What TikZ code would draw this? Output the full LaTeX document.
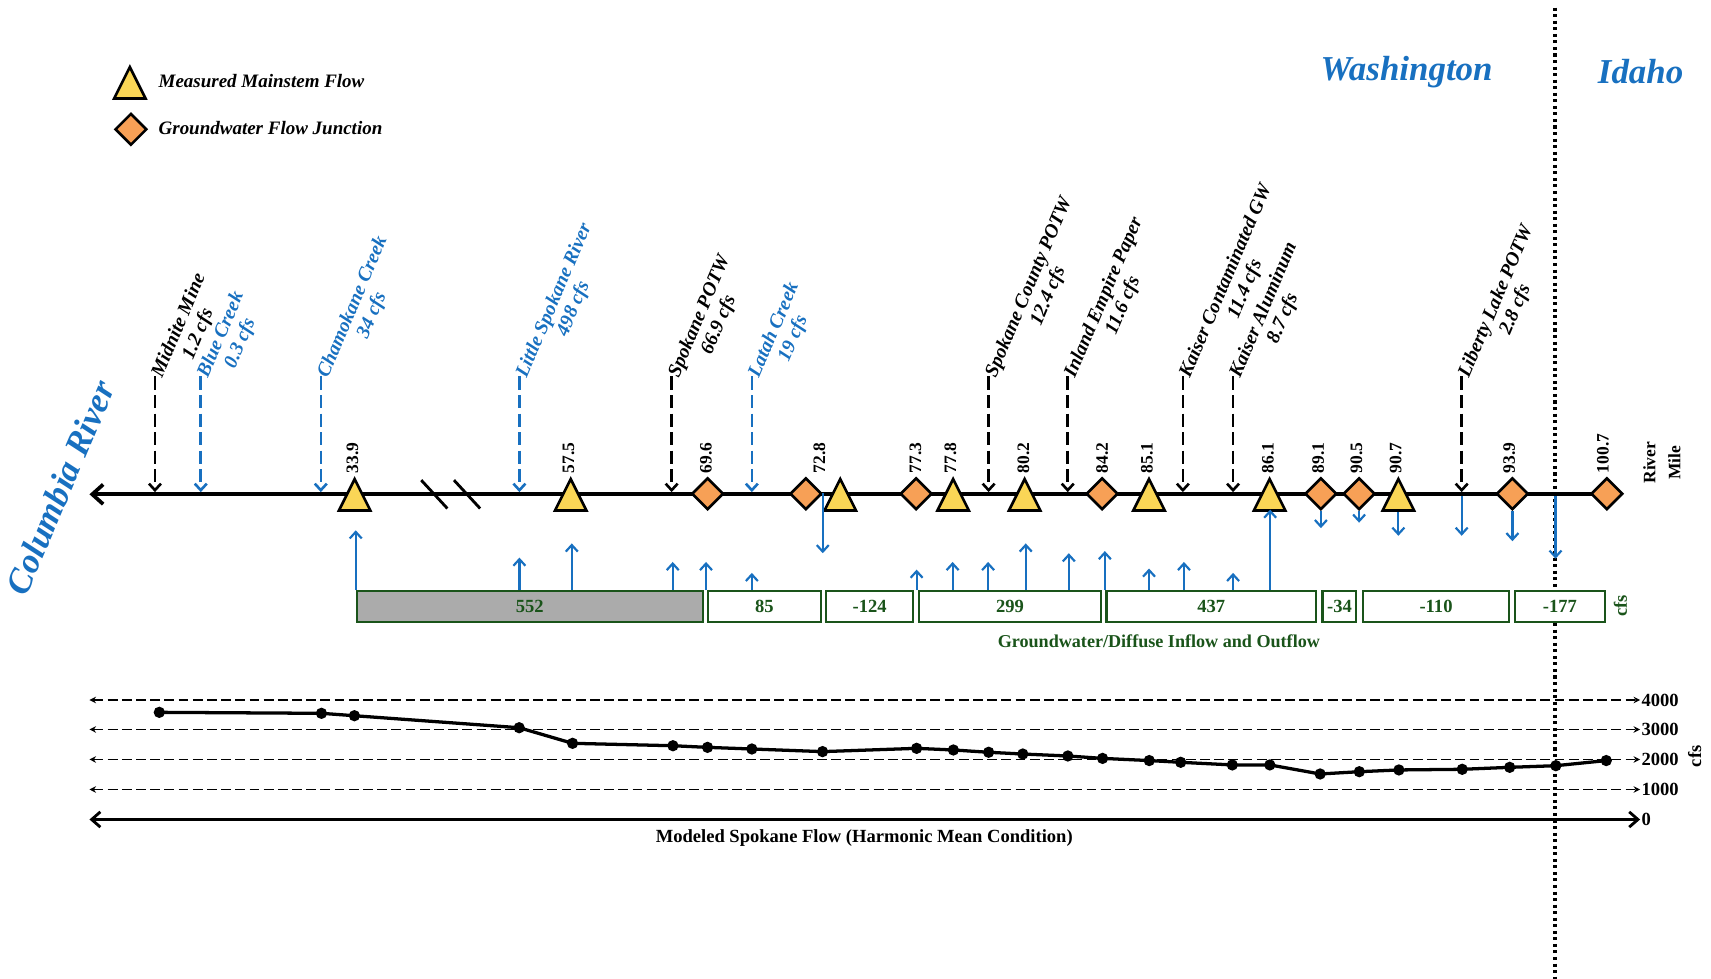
\documentclass[tikz,border=0pt]{standalone}
\usepackage{fontspec}
\setmainfont{Liberation Serif}
\usetikzlibrary{arrows.meta,shapes.geometric}
\definecolor{wablue}{RGB}{24,112,192}
\definecolor{gwgreen}{RGB}{26,84,26}
\definecolor{gaugefill}{RGB}{250,214,86}
\definecolor{junctfill}{RGB}{247,160,86}
\definecolor{boxgray}{RGB}{171,171,171}
\tikzset{
	gauge/.style={isosceles triangle,shape border rotate=90,isosceles triangle stretches,minimum width=14.4pt,minimum height=14.4pt,inner sep=0pt,draw=black,line width=1.2pt,fill=gaugefill},
	junction/.style={diamond,minimum size=14.6pt,inner sep=0pt,draw=black,line width=1.2pt,fill=junctfill},
	mile/.style={rotate=90,anchor=west,inner sep=0pt,font=\bfseries\fontsize{8}{9}\selectfont},
	source/.style={rotate=67,anchor=north west,inner sep=0pt,align=center,font=\bfseries\itshape\fontsize{9}{9.6}\selectfont},
	inflow/.style={line width=1.2pt,dash pattern=on 6pt off 2.5pt,-{Straight Barb[length=3pt,width=5.5pt]}},
	gwflow/.style={wablue,line width=1pt,-{Straight Barb[length=3pt,width=5.5pt]}},
	gwbox/.style={draw=gwgreen,line width=1pt,minimum height=14.3pt,inner sep=0pt,text=gwgreen,font=\bfseries\fontsize{8.5}{10}\selectfont},
	cfsline/.style={line width=0.6pt,dash pattern=on 4.5pt off 2pt,{Stealth[length=3pt,width=3pt]}-{Stealth[length=3pt,width=3pt]}},
	tick/.style={anchor=west,inner sep=0.5pt,font=\bfseries\fontsize{8.5}{10}\selectfont},
	legend/.style={anchor=west,inner sep=0pt,font=\bfseries\itshape\fontsize{8.7}{10}\selectfont},
	state/.style={text=wablue,inner sep=0pt,font=\bfseries\itshape\fontsize{16}{19}\selectfont}
}
\begin{document}
\begin{tikzpicture}[x=0.5pt,y=-0.5pt]
	\useasboundingbox (0,0) rectangle (1568,897);
	% state line
	\coordinate (border top) at (1425,7);
	\coordinate (border bottom) at (1425,897);
	\draw[line width=1.4pt,dash pattern=on 1.4pt off 1.6pt] (border top) -- (border bottom);
	\node[state] (wa) at (1289,66) {Washington};
	\node[state] (id) at (1503.5,66) {Idaho};
	\node[state,rotate=67] (columbia) at (55,447) {Columbia River};
	% legend
	\node[gauge,anchor=lower side] (leg gauge) at (119,91.5) {};
	\node[legend] (leg gauge text) at (145,74) {Measured Mainstem Flow};
	\node[junction] (leg junct) at (120,118.5) {};
	\node[legend] (leg junct text) at (145,117) {Groundwater Flow Junction};
	% river
	\coordinate (mouth) at (82,453);
	\coordinate (head) at (1472.5,453);
	\draw[line width=1.7pt,-{Straight Barb[length=5pt,width=9pt]}] (head) -- (mouth);
	\draw[line width=1.3pt] (386,440) -- (410,466) (416,440) -- (440,466);
	\foreach \x/\c/\nm/\q [count=\i] in {142/black/Midnite Mine/1.2 cfs,184/wablue/Blue Creek/0.3 cfs,294/wablue/Chamokane Creek/34 cfs,476/wablue/Little Spokane River/498 cfs,615.5/black/Spokane POTW/66.9 cfs,689/wablue/Latah Creek/19 cfs,906/black/Spokane County POTW/12.4 cfs,978.5/black/Inland Empire Paper/11.6 cfs,1084/black/Kaiser Contaminated GW/11.4 cfs,1130/black/Kaiser Aluminum/8.7 cfs,1339.5/black/Liberty Lake POTW/2.8 cfs}{
		\coordinate (src\i) at (\x,345);
		\coordinate (in\i) at (\x,451);
		\draw[inflow,color=\c] (src\i) -- (in\i);
		\node[source,text=\c] (lab\i) at (\x-5.5,342.5) {\nm\\\q};
	}
	\foreach \x [count=\i] in {325,523,770,873.5,939,1053,1163.5,1281.5}
		\node[gauge,anchor=lower side] (g\i) at (\x,469) {};
	\foreach \x [count=\i] in {648.5,738.5,839.5,1010,1210.5,1245.5,1386,1472.5}
		\node[junction] (j\i) at (\x,452.5) {};
	\foreach \x/\m [count=\i] in {323/33.9,521/57.5,647/69.6,751/72.8,839/77.3,871/77.8,938/80.2,1010/84.2,1051/85.1,1162/86.1,1208/89.1,1243/90.5,1279/90.7,1383/93.9,1469/100.7}
		\node[mile] (rm\i) at (\x,434) {\m};
	\node[rotate=90,align=center,inner sep=0pt,font=\bfseries\fontsize{8}{11.5}\selectfont] (rivmile) at (1523,424) {River\\Mile};
	% groundwater
	\foreach \cx/\w/\v/\f [count=\i] in {485.5/319/552/boxgray,700.5/105/85/white,797/82/-124/white,925.5/169/299/white,1110/194/437/white,1227.5/33/-34/white,1316/136/-110/white,1429.5/85/-177/white}
		\node[gwbox,fill=\f,minimum width=\w*0.5pt-1pt] (b\i) at (\cx,556) {\v};
	\node[rotate=90,inner sep=0pt,text=gwgreen,font=\bfseries\fontsize{8.5}{10}\selectfont] (boxcfs) at (1485,555) {cfs};
	\node[text=gwgreen,font=\bfseries\fontsize{8.3}{10}\selectfont] (gwcap) at (1062,588) {Groundwater/Diffuse Inflow and Outflow};
	\foreach \x/\t/\b [count=\i] in {326/486/b1,476/511/b1,524/498/b1,616.5/515/b1,647/515/b2,689/525/b2,840/522/b4,873/515/b4,905.5/515/b4,940/498/b4,979.5/507/b4,1012.5/505/b5,1053/521/b5,1085/515/b5,1130/525/b5,1164/467/b5}{
		\coordinate (up\i) at (\x,\t);
		\draw[gwflow] (up\i |- \b.north) -- (up\i);
	}
	\coordinate (out1) at (754,507);
	\coordinate (out5) at (1339.5,491);
	\coordinate (out7) at (1425.5,512);
	\draw[gwflow] (754,452) -- (out1);
	\draw[gwflow] (1339.5,455) -- (out5);
	\draw[gwflow] (1425.5,455) -- (out7);
	\coordinate (out2) at (1210.5,484);
	\coordinate (out3) at (1245.5,479);
	\coordinate (out4) at (1281.5,491);
	\coordinate (out6) at (1386,496);
	\draw[gwflow] (j5.south) -- (out2);
	\draw[gwflow] (j6.south) -- (out3);
	\draw[gwflow] (g8.lower side) -- (out4);
	\draw[gwflow] (j7.south) -- (out6);
	% modeled flow
	\foreach \v/\y in {4000/641.5,3000/668.5,2000/696,1000/723.5}{
		\node[tick] (t\v) at (1503,\y) {\v};
		\coordinate (l\v) at (82,\y);
		\draw[cfsline] (l\v) -- (t\v.west);
	}
	\node[tick] (t0) at (1503,751) {0};
	\coordinate (l0) at (82,751);
	\draw[line width=1.3pt,{Straight Barb[length=4pt,width=7pt]}-{Straight Barb[length=4pt,width=7pt]}] (l0) -- (t0.west);
	\node[rotate=90,inner sep=0pt,font=\bfseries\fontsize{8.5}{10}\selectfont] (chartcfs) at (1553,693) {cfs};
	\node[font=\bfseries\fontsize{8.5}{10}\selectfont] (chartcap) at (792,768) {Modeled Spokane Flow (Harmonic Mean Condition)};
	\foreach \x/\y [count=\i] in {146/652.8,294.6/653.7,324.8/655.9,475.8/666.9,524.7/681.2,616.7/683.4,648.4/684.9,689/686.4,753.8/688.8,840/685.8,873.7/687.3,906/689.4,937.3/691,978.6/692.8,1010.4/695,1053.2/697,1082/698.6,1129.3/701,1163.7/701,1209.8/709.3,1245.7/707.2,1282/705.6,1340/705,1383.5/703.2,1425.8/701.7,1472/697}
		\coordinate (p\i) at (\x,\y);
	\draw[line width=1.5pt] (p1) \foreach \i in {2,...,26}{ -- (p\i)};
	\foreach \i in {1,...,26}
		\fill (p\i) circle (2.6pt);
\end{tikzpicture}
\end{document}
